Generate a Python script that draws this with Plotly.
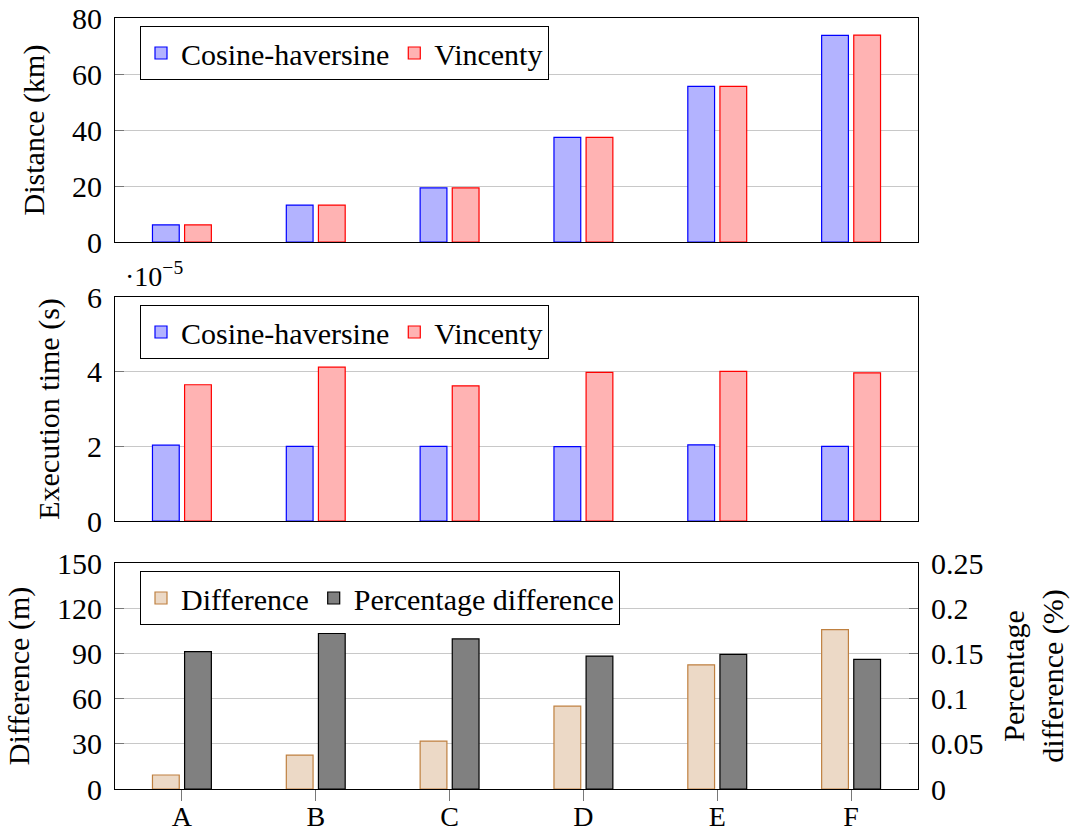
import plotly.graph_objects as go

categories = ["A", "B", "C", "D", "E", "F"]

# Distance (km)
dist_cosine_haversine = [6.1, 13.2, 19.3, 37.4, 55.6, 73.8]
dist_vincenty = [6.1, 13.2, 19.3, 37.4, 55.6, 73.9]

# Execution time (s)
time_cosine_haversine = [2.03e-5, 2.00e-5, 2.00e-5, 1.99e-5, 2.04e-5, 2.00e-5]
time_vincenty = [3.65e-5, 4.12e-5, 3.62e-5, 3.98e-5, 4.01e-5, 3.97e-5]

# Difference (m) and percentage difference (%)
difference_m = [9.3, 22.5, 31.8, 55.0, 82.4, 105.8]
percentage_diff = [0.152, 0.172, 0.166, 0.147, 0.149, 0.1435]

dist_ticks = [0, 20, 40, 60, 80]
time_ticks = [0, 2e-5, 4e-5, 6e-5]
time_tick_text = ["0", "2", "4", "6"]
diff_ticks = [0, 30, 60, 90, 120, 150]
pct_ticks = [0, 0.05, 0.1, 0.15, 0.2, 0.25]
pct_tick_text = ["0", "0.05", "0.1", "0.15", "0.2", "0.25"]

FONT = "Liberation Serif"
FS = 30
BLUE_FILL, BLUE_LINE = "rgb(179,179,255)", "rgb(0,0,255)"
RED_FILL, RED_LINE = "rgb(255,179,179)", "rgb(255,0,0)"
BROWN_FILL, BROWN_LINE = "rgb(236,217,198)", "rgb(191,128,64)"
GRAY_FILL, GRAY_LINE = "rgb(128,128,128)", "rgb(0,0,0)"

W = 0.2
OFF_L, OFF_R = -0.22, 0.02

fig = go.Figure()

def add_bar(y, name, fill, line, xa, ya, legend, left):
    fig.add_trace(go.Bar(
        x=categories, y=y, name=name, xaxis=xa, yaxis=ya, legend=legend,
        width=W, offset=OFF_L if left else OFF_R,
        marker=dict(color=fill, line=dict(color=line, width=1.2)),
    ))

add_bar(dist_cosine_haversine, "Cosine-haversine", BLUE_FILL, BLUE_LINE, "x", "y", "legend", True)
add_bar(dist_vincenty, "Vincenty", RED_FILL, RED_LINE, "x", "y", "legend", False)
add_bar(time_cosine_haversine, "Cosine-haversine", BLUE_FILL, BLUE_LINE, "x2", "y2", "legend2", True)
add_bar(time_vincenty, "Vincenty", RED_FILL, RED_LINE, "x2", "y2", "legend2", False)
add_bar(difference_m, "Difference", BROWN_FILL, BROWN_LINE, "x3", "y3", "legend3", True)
add_bar(percentage_diff, "Percentage difference", GRAY_FILL, GRAY_LINE, "x3", "y4", "legend3", False)

H = 771.0
def dom(top_px, bot_px):
    return [(789 - bot_px) / H, (789 - top_px) / H]

d1 = dom(18, 242)
d2 = dom(297, 521)
d3 = dom(563, 789)

tfont = dict(family=FONT, size=FS, color="black")

xcommon = dict(range=[-0.5, 5.5], showline=True, linecolor="black", linewidth=1,
               mirror=True, showgrid=False, zeroline=False, automargin=False,
               tickfont=tfont)
ycommon = dict(showline=True, linecolor="black", linewidth=1, mirror=True,
               showgrid=True, gridcolor="rgb(200,200,200)", gridwidth=1,
               zeroline=False, ticks="inside", ticklen=9, tickcolor="rgb(120,120,120)",
               tickfont=tfont, automargin=False, ticklabelstandoff=6)

def ytitle(t, standoff=18):
    return dict(text=t, font=tfont, standoff=standoff)

legcommon = dict(font=tfont, orientation="h",
                 bordercolor="black", borderwidth=1, bgcolor="white",
                 xanchor="left", yanchor="top", x=25 / 803.0,
                 itemwidth=30, tracegroupgap=0, itemclick=False)

xaxis3 = dict(xcommon)
xaxis3["tickfont"] = dict(family=FONT, size=28, color="black")

fig.update_layout(
    width=1070, height=837,
    margin=dict(l=115, r=152, t=18, b=48, autoexpand=False),
    paper_bgcolor="white", plot_bgcolor="white",
    showlegend=True,
    font=tfont,
    xaxis=dict(**xcommon, domain=[0, 1], anchor="y", showticklabels=False, ticks=""),
    xaxis2=dict(**xcommon, domain=[0, 1], anchor="y2", showticklabels=False, ticks=""),
    xaxis3=dict(**xaxis3, domain=[0, 1], anchor="y3", ticks="outside", ticklen=11,
                tickcolor="rgb(120,120,120)", ticklabelstandoff=-9),
    yaxis=dict(**ycommon, domain=d1, anchor="x", range=[0, 80], tickvals=dist_ticks,
               title=ytitle("Distance (km)")),
    yaxis2=dict(**ycommon, domain=d2, anchor="x2", range=[0, 6e-5], tickvals=time_ticks,
                ticktext=time_tick_text, title=ytitle("Execution time (s)")),
    yaxis3=dict(**ycommon, domain=d3, anchor="x3", range=[0, 150], tickvals=diff_ticks,
                title=ytitle("Difference (m)")),
    yaxis4=dict(showline=True, linecolor="black", linewidth=1, overlaying="y3",
                side="right", anchor="x3", range=[0, 0.25], tickvals=pct_ticks,
                ticktext=pct_tick_text, showgrid=False, zeroline=False,
                ticks="inside", ticklen=9, tickcolor="rgb(120,120,120)",
                tickfont=tfont, automargin=False, ticklabelstandoff=6,
                title=ytitle("Percentage<br>difference (%)", 24)),
    legend=dict(**legcommon, y=1 - 8 / H),
    legend2=dict(**legcommon, y=d2[1] - 8 / H),
    legend3=dict(**legcommon, y=d3[1] - 8 / H),
    annotations=[dict(text="·10<sup>−5</sup>", xref="paper", yref="paper",
                      x=8 / 803.0, y=d2[1] + 3 / H, xanchor="left", yanchor="bottom",
                      showarrow=False, font=dict(family=FONT, size=FS - 2, color="black"))],
)

fig.write_html("out.html")
